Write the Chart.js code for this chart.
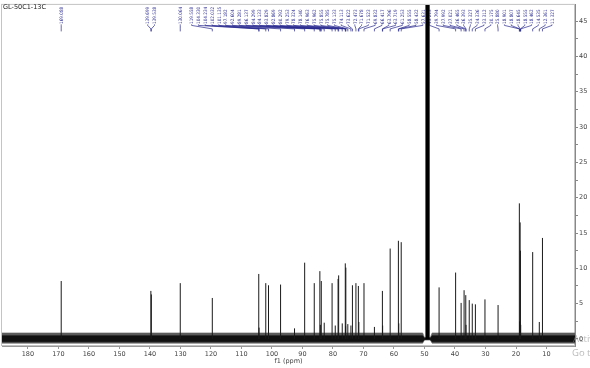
<!DOCTYPE html>
<html>
<head>
  <title>GL-50C1-13C</title>
  <script src="https://cdn.jsdelivr.net/npm/chart.js"></script>
  <style>
    html, body { margin: 0; padding: 0; background: #fff; }
    #wrap { width: 590px; height: 368px; }
  </style>
</head>
<body>
  <div id="wrap"><canvas id="nmrChart"></canvas></div>
  <script>
    // picked peaks (ppm) and their heights
    const peakPpm = [169.088, 139.699, 139.538, 130.064, 119.558, 104.330, 104.234, 102.032, 101.135, 97.182,
      92.604, 89.281, 86.137, 84.299, 84.133, 83.829, 82.869, 80.292, 79.253, 78.324,
      78.140, 76.963, 75.962, 75.855, 75.785, 75.133, 74.113, 73.622, 72.473, 71.678,
      71.523, 69.832, 66.417, 63.796, 63.719, 61.253, 58.555, 58.432, 57.631, 45.213,
      39.794, 37.992, 37.021, 36.465, 36.393, 35.327, 34.336, 33.312, 30.175, 25.880,
      18.901, 18.807, 18.645, 18.555, 18.462, 14.535, 12.361, 11.327];
    const peakHeight = [8.2, 6.8, 6.3, 7.9, 5.8, 9.2, 1.6, 7.9, 7.6, 7.7,
      1.5, 10.8, 7.9, 9.6, 2.0, 8.2, 2.3, 7.9, 1.9, 8.5,
      9.0, 2.2, 10.7, 1.8, 10.1, 2.1, 1.9, 7.6, 7.9, 7.5,
      2.4, 7.9, 1.7, 6.8, 1.9, 12.8, 13.9, 2.2, 13.7, 7.3,
      9.4, 5.1, 6.9, 6.2, 2.0, 5.5, 5.0, 4.9, 5.6, 4.8,
      19.2, 2.5, 16.5, 12.5, 2.0, 12.3, 2.4, 14.3];

    // solvent multiplet, runs off the top
    const solventPpm = [48.5, 48.7, 48.85, 49.0, 49.15, 49.3, 49.5];
    const solventHeight = [60, 90, 150, 200, 150, 90, 60];

    // baseline noise envelope
    const noisePpm = [188.5, 140, 100, 60, 50.6, 50.0, 48.1, 47.5, 20, 0.66];
    const noiseUpper = [0.85, 0.85, 0.85, 0.85, 0.85, 0.2, 0.2, 0.85, 0.85, 0.85];
    const noiseLower = [-0.6, -0.6, -0.6, -0.6, -0.6, -0.15, -0.15, -0.6, -0.6, -0.6];
    const noiseCoreUpper = [0.45, 0.45, 0.45, 0.45, 0.45, 0.1, 0.1, 0.45, 0.45, 0.45];
    const noiseCoreLower = [-0.4, -0.4, -0.4, -0.4, -0.4, -0.1, -0.1, -0.4, -0.4, -0.4];

    const xTicks = [180, 170, 160, 150, 140, 130, 120, 110, 100, 90, 80, 70, 60, 50, 40, 30, 20, 10];
    const yTicks = [0, 2.5, 5, 7.5, 10, 12.5, 15, 17.5, 20, 22.5, 25, 27.5, 30, 32.5, 35, 37.5, 40, 42.5, 45];

    const fam = '"DejaVu Sans", Verdana, sans-serif';
    const labelBlue = '#25258e';

    function sticks(ppm, h) {
      const pts = [];
      ppm.forEach((p, i) => {
        pts.push({ x: p, y: 0 }, { x: p, y: h[i] }, { x: p, y: null });
      });
      return pts;
    }
    function envelope(vals) {
      return noisePpm.map((p, i) => ({ x: p, y: vals[i] }));
    }

    const framePlugin = {
      id: 'frame',
      beforeDatasetsDraw(chart) {
        const { ctx, chartArea } = chart;
        ctx.save();
        ctx.strokeStyle = '#c4c4c4';
        ctx.lineWidth = 1;
        ctx.strokeRect(chartArea.left - 0.5, chartArea.top - 0.5,
          chartArea.right - chartArea.left, chartArea.bottom - chartArea.top);
        ctx.restore();
      }
    };

    const peakLabelPlugin = {
      id: 'peakLabels',
      beforeDatasetsDraw(chart) {
        const { ctx, chartArea, scales } = chart;
        const gap = 6.8;
        const lo = chartArea.left + 3, hi = chartArea.right - 23;
        const items = peakPpm.map(p => ({ text: p.toFixed(3), px: scales.x.getPixelForValue(p) }))
          .sort((a, b) => a.px - b.px);
        const clamp = g => {
          const half = (g.n - 1) * gap / 2;
          g.c = Math.min(Math.max(g.c, lo + half), hi - half);
        };
        const groups = [];
        items.forEach((it, i) => {
          const g = { first: i, n: 1, sum: it.px, c: it.px };
          clamp(g);
          groups.push(g);
          while (groups.length > 1) {
            const a = groups[groups.length - 2], b = groups[groups.length - 1];
            if (a.c + (a.n - 1) * gap / 2 + gap <= b.c - (b.n - 1) * gap / 2) break;
            const m = { first: a.first, n: a.n + b.n, sum: a.sum + b.sum };
            m.c = m.sum / m.n;
            clamp(m);
            groups.splice(-2, 2, m);
          }
        });
        groups.forEach(g => {
          for (let k = 0; k < g.n; k++) {
            items[g.first + k].lx = g.c - (g.n - 1) * gap / 2 + k * gap;
          }
        });

        const top = chartArea.top;
        ctx.save();
        ctx.strokeStyle = labelBlue;
        ctx.lineWidth = 0.7;
        items.forEach(it => {
          ctx.beginPath();
          ctx.moveTo(it.lx, top + 19.5);
          ctx.lineTo(it.lx, top + 20.5);
          ctx.lineTo(it.px, top + 24);
          ctx.lineTo(it.px, top + 26.5);
          ctx.stroke();
        });
        ctx.fillStyle = labelBlue;
        ctx.font = '4.6px "DejaVu Sans Condensed", "DejaVu Sans", sans-serif';
        ctx.textAlign = 'left';
        ctx.textBaseline = 'alphabetic';
        items.forEach(it => {
          ctx.save();
          ctx.translate(it.lx, top + 19);
          ctx.rotate(-Math.PI / 2);
          ctx.fillText(it.text, 0, 1.7);
          ctx.restore();
        });
        ctx.restore();
      }
    };

    const textPlugin = {
      id: 'extraText',
      afterDraw(chart) {
        const { ctx } = chart;
        ctx.save();
        ctx.fillStyle = '#222';
        ctx.font = '6.5px ' + fam;
        ctx.textAlign = 'left';
        ctx.textBaseline = 'alphabetic';
        ctx.fillText('GL-50C1-13C', 3, 9);
        ctx.fillStyle = 'rgba(140,140,140,0.6)';
        ctx.font = '9.5px "Open Sans", sans-serif';
        ctx.fillText('Activate Windows', 573, 342);
        ctx.fillText('Go to Settings to activate Windows.', 572, 356);
        ctx.restore();
      }
    };

    const chart = new Chart(document.getElementById('nmrChart'), {
      type: 'line',
      data: {
        datasets: [
          { data: sticks(peakPpm, peakHeight), borderColor: '#1a1a1a', borderWidth: 1, spanGaps: false },
          { data: sticks(solventPpm, solventHeight), borderColor: '#000', borderWidth: 1.2, spanGaps: false },
          { data: envelope(noiseCoreUpper), borderColor: '#111', borderWidth: 0.6, fill: '+1', backgroundColor: '#111' },
          { data: envelope(noiseCoreLower), borderColor: '#111', borderWidth: 0.6 },
          { data: envelope(noiseUpper), borderColor: '#666', borderWidth: 0.6, fill: '+1', backgroundColor: '#5a5a5a' },
          { data: envelope(noiseLower), borderColor: '#666', borderWidth: 0.6 }
        ]
      },
      options: {
        responsive: true,
        maintainAspectRatio: false,
        animation: false,
        layout: { padding: { left: 2, top: 3, right: 0, bottom: 0 } },
        elements: { point: { radius: 0 }, line: { tension: 0 } },
        plugins: { legend: { display: false }, tooltip: { enabled: false } },
        scales: {
          x: {
            type: 'linear',
            reverse: true,
            min: 0.66,
            max: 188.5,
            afterBuildTicks: s => { s.ticks = xTicks.map(v => ({ value: v })); },
            afterFit: s => { s.height = 22; },
            grid: { drawOnChartArea: false, drawTicks: true, tickLength: 3, color: '#999' },
            border: { color: '#999' },
            ticks: { font: { family: fam, size: 6.5 }, color: '#444', padding: 1, maxRotation: 0, autoSkip: false },
            title: { display: true, text: 'f1 (ppm)', font: { family: fam, size: 6.5 }, color: '#444', padding: { top: 0, bottom: 3 } }
          },
          y: {
            position: 'right',
            min: -1,
            max: 47.3,
            afterBuildTicks: s => { s.ticks = yTicks.map(v => ({ value: v })); },
            afterFit: s => { s.width = 15; },
            grid: { drawOnChartArea: false, drawTicks: true, tickLength: 3, color: '#888' },
            border: { color: '#888' },
            ticks: {
              font: { family: fam, size: 6.5 }, color: '#444', padding: 1, autoSkip: false,
              callback: v => (v % 5 === 0 ? String(v) : '')
            }
          }
        }
      },
      plugins: [framePlugin, peakLabelPlugin, textPlugin]
    });
  </script>
</body>
</html>
